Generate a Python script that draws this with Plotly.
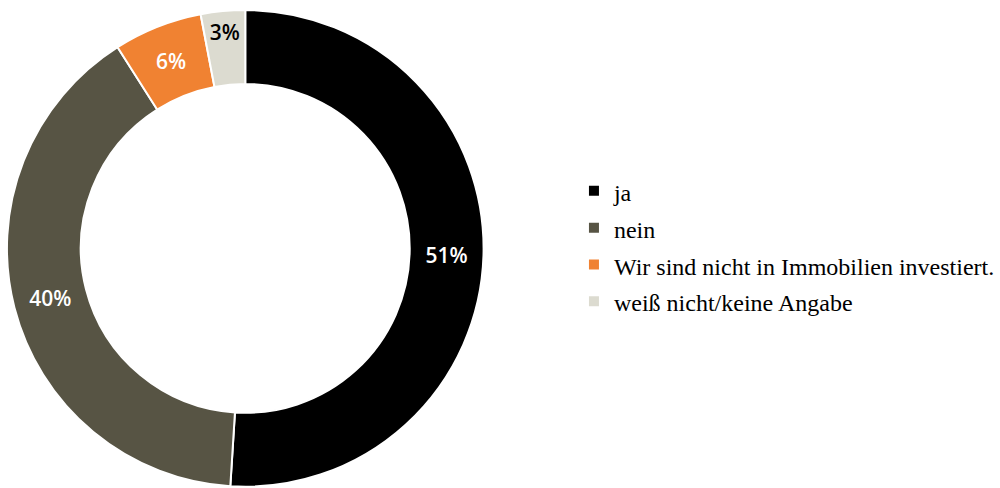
import plotly.graph_objects as go

labels = ["ja", "nein", "Wir sind nicht in Immobilien investiert.", "weiß nicht/keine Angabe"]
values = [51, 40, 6, 3]
colors = ["#000000", "#575444", "#F08232", "#DCDBD0"]
text_colors = ["#ffffff", "#ffffff", "#ffffff", "#000000"]

legend_labels = ['<span style="font-size:24px">' + s + '</span>' for s in labels]

fig = go.Figure(go.Pie(
    labels=legend_labels,
    values=values,
    hole=0.69,
    sort=False,
    direction="clockwise",
    rotation=0,
    marker=dict(colors=colors, line=dict(color="#ffffff", width=2)),
    texttemplate="%{value}%",
    textposition="inside",
    insidetextorientation="horizontal",
    textfont=dict(family="Open Sans", size=21, color=text_colors, weight=600),
    domain=dict(x=[0.007, 0.487], y=[0, 0.982]),
))

fig.update_layout(
    width=1000, height=488,
    margin=dict(l=0, r=0, t=0, b=0),
    paper_bgcolor="#ffffff",
    plot_bgcolor="#ffffff",
    legend=dict(
        x=0.578, y=0.495, xanchor="left", yanchor="middle",
        font=dict(family="Liberation Serif", size=26, color="#000000"),
        itemwidth=30,
    ),
)

fig.write_html("out.html")
